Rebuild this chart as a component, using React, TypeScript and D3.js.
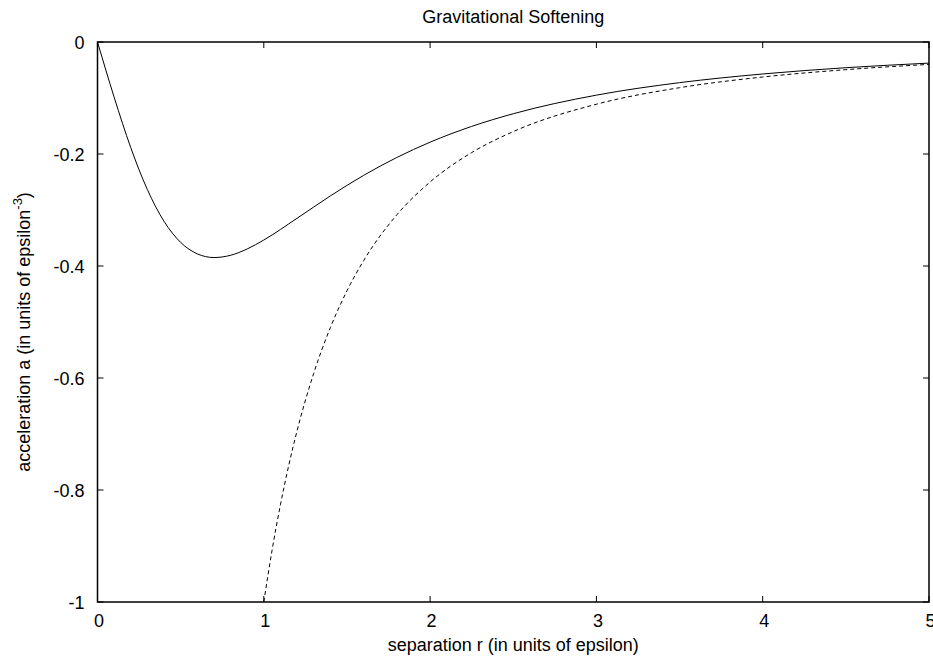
import * as d3 from "d3";

// separation r (units of epsilon) and acceleration
const softR = [0, 0.05, 0.1, 0.2, 0.3, 0.4, 0.5, 0.6, 0.7, 0.8, 0.9, 1.0, 1.2, 1.4, 1.6, 1.8, 2.0, 2.25, 2.5, 3.0, 3.5, 4.0, 4.5, 5.0];
const softA = [0, -0.05, -0.0985, -0.1886, -0.2636, -0.3202, -0.3578, -0.3783, -0.3849, -0.3809, -0.3696, -0.3536, -0.3148, -0.2749, -0.2382, -0.2062, -0.1789, -0.1507, -0.1281, -0.0949, -0.0726, -0.0571, -0.0459, -0.0377];

const newtonR = [1.0, 1.05, 1.1, 1.15, 1.2, 1.3, 1.4, 1.5, 1.6, 1.8, 2.0, 2.25, 2.5, 3.0, 3.5, 4.0, 4.5, 5.0];
const newtonA = [-1.0, -0.907, -0.8264, -0.7561, -0.6944, -0.5917, -0.5102, -0.4444, -0.3906, -0.3086, -0.25, -0.1975, -0.16, -0.1111, -0.0816, -0.0625, -0.0494, -0.04];

const xTicks = [0, 1, 2, 3, 4, 5];
const yTicks = [0, -0.2, -0.4, -0.6, -0.8, -1];
const yTickLabels = ["0", "-0.2", "-0.4", "-0.6", "-0.8", "-1"];

const W = 933;
const H = 662;
const margin = { top: 42, right: 4, bottom: 60, left: 97.5 };
const font = "'Liberation Sans', Arial, sans-serif";
const tickLen = 6;

export default function App() {
  const x = d3.scaleLinear().domain([0, 5]).range([margin.left, W - margin.right]);
  const y = d3.scaleLinear().domain([-1, 0]).range([H - margin.bottom, margin.top]);

  const line = d3
    .line<[number, number]>()
    .x((d) => x(d[0]))
    .y((d) => y(d[1]))
    .curve(d3.curveMonotoneX);

  const softPath = line(softR.map((r, i) => [r, softA[i]]) as [number, number][]) || "";
  const newtonPath = line(newtonR.map((r, i) => [r, newtonA[i]]) as [number, number][]) || "";

  const [x0, x1] = x.range();
  const [y0, y1] = y.range();

  return (
    <svg
      width={W}
      height={H}
      style={{ position: "absolute", left: 0, top: 0, background: "white" }}
      fontFamily={font}
      fontSize={18}
    >
      <rect x={0} y={0} width={W} height={H} fill="white" />
      <text x={(x0 + x1) / 2} y={23} textAnchor="middle">
        Gravitational Softening
      </text>

      <path d={softPath} fill="none" stroke="black" strokeWidth={1} />
      <path d={newtonPath} fill="none" stroke="black" strokeWidth={1} strokeDasharray="4,3" />

      {xTicks.map((t) => (
        <g key={"x" + t}>
          <line x1={x(t)} x2={x(t)} y1={y0} y2={y0 - tickLen} stroke="black" />
          <line x1={x(t)} x2={x(t)} y1={y1} y2={y1 + tickLen} stroke="black" />
          <text x={x(t) + 1.5} y={y0 + 25} textAnchor="middle">
            {String(t)}
          </text>
        </g>
      ))}
      {yTicks.map((t, i) => (
        <g key={"y" + t}>
          <line x1={x0} x2={x0 + tickLen} y1={y(t)} y2={y(t)} stroke="black" />
          <line x1={x1} x2={x1 - tickLen} y1={y(t)} y2={y(t)} stroke="black" />
          <text x={x0 - 13} y={y(t) + 7} textAnchor="end">
            {yTickLabels[i]}
          </text>
        </g>
      ))}

      <rect x={x0} y={y1} width={x1 - x0} height={y0 - y1} fill="none" stroke="black" strokeWidth={1.5} />

      <text x={(x0 + x1) / 2} y={651} textAnchor="middle">
        separation r (in units of epsilon)
      </text>
      <text transform={`translate(30 332) rotate(-90)`} textAnchor="middle">
        acceleration a (in units of epsilon
        <tspan dy={-8} fontSize={13}>-3</tspan>
        <tspan dy={8}>)</tspan>
      </text>
    </svg>
  );
}
